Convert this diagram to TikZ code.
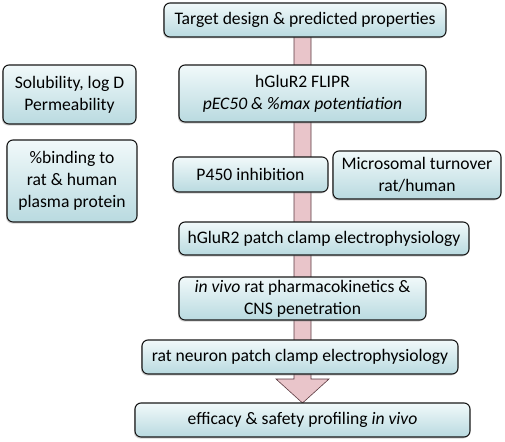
\documentclass[tikz,border=0pt]{standalone}
\usepackage{fontspec}
\setmainfont{Carlito}
\usetikzlibrary{shadows}
\definecolor{boxtop}{HTML}{F1F9FA}
\definecolor{boxbot}{HTML}{B9DAE0}
\definecolor{arrfill}{HTML}{E9C5CA}
\definecolor{arredge}{HTML}{5A3A40}
\begin{document}
\begin{tikzpicture}[x=1pt,y=-1pt,
  box/.style={draw=black!90, line width=1.1pt, rounded corners=6pt,
    top color=boxtop, bottom color=boxbot,
    drop shadow={shadow xshift=-1pt, shadow yshift=-1.5pt, opacity=0.35},
    align=center, inner sep=0pt, font=\fontsize{17.6}{22}\selectfont}]
\useasboundingbox (0,0) rectangle (505,441);
% arrow
\filldraw[fill=arrfill, draw=arredge, line width=0.6pt]
  (294,30) -- (311,30) -- (311,379) -- (329,379) -- (302.5,403) -- (276,379) -- (294,379) -- cycle;
\node[box, minimum width=282pt, minimum height=34pt] (target) at (305,20) {Target design \& predicted properties};
\node[box, minimum width=133pt, minimum height=59pt] (sol) at (69.5,94.5) {Solubility, log D\\Permeability};
\node[box, minimum width=247pt, minimum height=57pt] (flipr) at (302.5,93.5) {hGluR2 FLIPR\\\textit{pEC50 \& \%max potentiation}};
\node[box, minimum width=130pt, minimum height=82pt] (bind) at (72,181) {\%binding to\\rat \& human\\plasma protein};
\node[box, minimum width=155pt, minimum height=35pt] (p450) at (250.5,174.5) {P450 inhibition};
\node[box, minimum width=168pt, minimum height=48pt] (micro) at (417,175) {Microsomal turnover\\rat/human};
\node[box, minimum width=290pt, minimum height=33pt] (patch) at (324,238.5) {hGluR2 patch clamp electrophysiology};
\node[box, minimum width=247pt, minimum height=43pt] (pk) at (302.5,298.5) {\textit{in vivo} rat pharmacokinetics \&\\CNS penetration};
\node[box, minimum width=316pt, minimum height=34pt] (neuron) at (300,357) {rat neuron patch clamp electrophysiology};
\node[box, minimum width=335pt, minimum height=34pt] (eff) at (302.5,420) {efficacy \& safety profiling \textit{in vivo}};
\end{tikzpicture}
\end{document}
